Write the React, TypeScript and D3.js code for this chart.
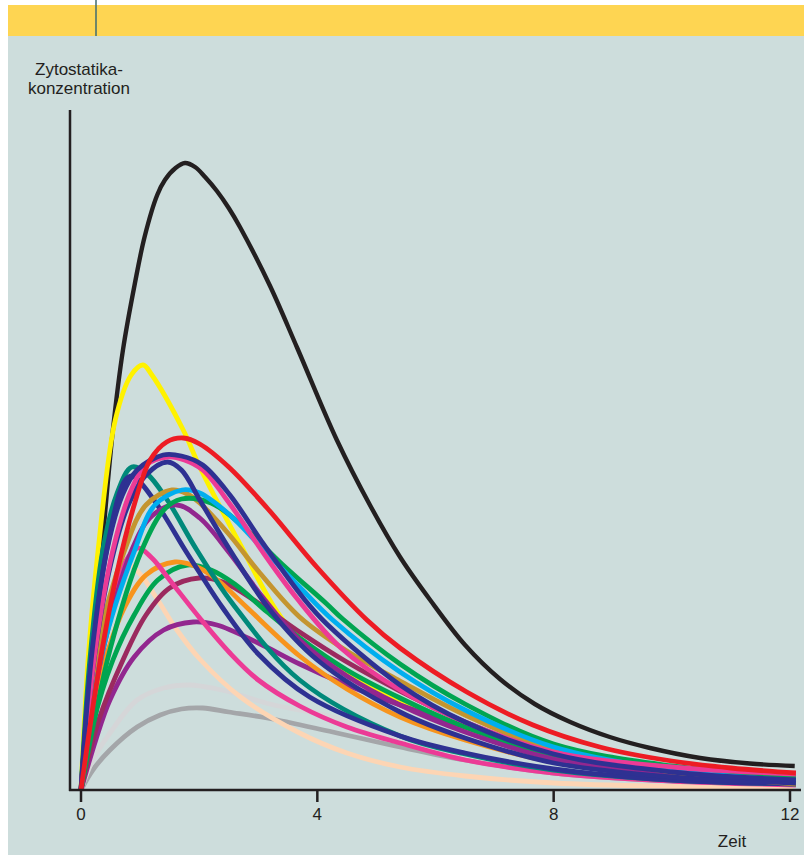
import React from "react";
import * as d3 from "d3";

type Pt = [number, number];

const xTicks = [0, 4, 8, 12];
const xTickLabels = ["0", "4", "8", "12"];
const yTitle = ["Zytostatika-", "konzentration"];
const xTitle = "Zeit";

const black: Pt[] = [[0,0],[0.36,24.5],[0.54,36],[0.71,44],[0.91,50.6],[1.08,55.4],[1.29,59.5],[1.42,61],[1.6,62.2],[1.76,62.7],[1.93,62.3],[2.1,61.3],[2.3,59.9],[2.5,58.2],[2.69,56.3],[3.2,50.4],[3.66,44.2],[4.33,35],[4.89,28.5],[5.4,23.3],[5.91,19],[6.5,14.5],[7.09,11.1],[7.68,8.6],[8.28,6.8],[8.95,5.3],[9.63,4.2],[10.48,3.2],[11.32,2.65],[12.08,2.4]];
const yellow: Pt[] = [[0,0],[0.12,13],[0.29,24],[0.58,37],[0.85,41.5],[1.05,42.5],[1.2,41.5],[1.73,36],[2.01,32.3],[2.7,24.5],[3.42,17],[4.2,12.8],[5.4,8.8],[6.5,6],[8,3.3],[10,1.6],[12.05,0.8]];
const red: Pt[] = [[0,0],[0.3,12],[0.6,21.5],[0.9,28.5],[1.17,33],[1.45,34.8],[1.73,35.2],[2.01,34.6],[2.5,32.3],[3.15,28.2],[3.99,22.3],[4.84,17],[5.4,14.2],[6.53,9.8],[7.65,6.5],[8.78,4.3],[10,2.9],[11,2.2],[12.1,1.7]];
const navyA: Pt[] = [[0,0],[0.19,14],[0.44,24],[0.7,29.5],[0.95,32],[1.39,33.5],[1.7,33.4],[2.06,32.5],[2.52,29.5],[3.1,24.5],[3.79,19],[4.16,16.6],[5.4,10.5],[6.5,6.8],[8,3.6],[10,1.8],[12.1,1.0]];
const pinkA: Pt[] = [[0,0],[0.24,14],[0.54,24],[0.85,30],[1.1,32.5],[1.46,33.3],[1.75,33],[2.06,32],[2.52,28.6],[3.1,23.6],[3.65,19.2],[4.4,14.2],[5.4,10],[6.5,6.8],[8,3.8],[10,2.3],[12.1,1.6]];
const navyC: Pt[] = [[0,0],[0.22,13],[0.5,22.5],[0.8,28.5],[1.1,31.5],[1.46,32.8],[1.7,32],[2.01,29],[2.5,24.2],[3.2,18],[4,13],[5.4,7.8],[6.5,5.2],[8,2.7],[10,1.3],[12.1,0.7]];
const navyB: Pt[] = [[0,0],[0.2,14],[0.45,24.5],[0.75,31],[0.88,31.4],[1.0,30.8],[1.35,28],[1.73,24.3],[2.01,21.7],[2.4,18.2],[3.0,13.6],[3.87,9.3],[5.4,5.4],[6.5,3.7],[8,2.1],[10,1.0],[12.1,0.6]];
const teal: Pt[] = [[0,0],[0.15,13],[0.37,24],[0.6,29.5],[0.86,32.3],[1.12,31.6],[1.46,29],[1.96,24],[2.57,18.6],[3.7,11],[5.4,5.4],[6.5,3.6],[8,2],[10,1],[12.1,0.6]];
const gold: Pt[] = [[0,0],[0.27,14],[0.74,24],[1.1,28.5],[1.54,30],[1.8,29.6],[2.01,28.7],[2.5,25.6],[3.0,21.9],[3.7,17.3],[4.5,13.9],[5.4,10.9],[6.5,7.5],[8,4],[10,1.8],[12.1,0.6]];
const cyan: Pt[] = [[0,0],[0.37,14],[0.91,24],[1.25,28.5],[1.71,30],[2.01,29.7],[2.5,27.6],[3.0,24.6],[3.7,20.3],[4.26,17],[5.4,11.8],[6.5,8],[8,4.3],[10,2],[12.1,0.9]];
const greenA: Pt[] = [[0,0],[0.49,14],[1.03,24],[1.4,28],[1.7,29.1],[2.2,28.7],[2.7,26.6],[3.4,22.6],[4.16,18.6],[4.43,17.1],[5.4,12.6],[6.5,8.6],[8,4.6],[10,2.4],[12.1,1.3]];
const purpleA: Pt[] = [[0,0],[0.3,12],[0.86,24],[1.2,27.4],[1.62,28.5],[2.01,27.2],[2.5,23.8],[3.06,19.4],[3.7,15],[4.5,11.4],[5.4,8.5],[6.5,5.8],[8,3.1],[10,1.5],[12.1,0.8]];
const orange: Pt[] = [[0,0],[0.2,8],[0.46,14],[0.74,18.3],[1.1,21.5],[1.59,22.8],[2.0,22.2],[2.35,20.8],[2.8,18.3],[3.7,13.4],[4.5,10.1],[5.4,7.3],[6.5,5],[8,2.8],[10,1.3],[12.1,0.7]];
const green2: Pt[] = [[0,0],[0.2,6.5],[0.54,13],[0.9,17.5],[1.3,21],[1.8,22.5],[2.2,22],[2.6,20.6],[3.15,17.8],[3.7,15.2],[4.5,12],[5.4,9.2],[6.5,6.3],[8,3.4],[10,1.6],[12.1,0.9]];
const maroon: Pt[] = [[0,0],[0.3,7],[0.71,13],[1.1,17.5],[1.5,20.2],[2.0,21.2],[2.4,20.8],[3.0,18.7],[3.7,15.8],[4.5,12.8],[5.4,9.9],[6.5,6.8],[8,3.6],[10,1.7],[12.1,0.9]];
const purple2: Pt[] = [[0,0],[0.25,5],[0.49,9],[0.9,13.3],[1.4,16],[1.9,16.8],[2.3,16.5],[3.0,14.7],[3.7,12.6],[4.5,10.5],[5.4,8.5],[6.5,6.3],[8,3.6],[10,1.7],[12.1,0.9]];
const pink2: Pt[] = [[0,0],[0.2,10],[0.5,18.5],[0.75,22.8],[0.96,24.2],[1.2,23.2],[1.5,21],[2.01,17.2],[2.52,13.7],[3.0,11],[3.7,8.4],[4.5,6.3],[5.4,4.7],[6.5,3],[8,1.7],[10,0.9],[12.1,0.5]];
const peach: Pt[] = [[0,0],[0.2,9],[0.45,17],[0.8,22.5],[1.0,21.6],[1.3,19],[1.6,16.2],[2.01,13.1],[2.7,9.3],[3.7,5.7],[4.5,3.7],[5.4,2.3],[6.5,1.4],[8,0.7],[10,0.35],[12.05,0.2]];
const lightgray: Pt[] = [[0,0],[0.2,3],[0.49,5.7],[0.95,9],[1.4,10.2],[1.84,10.5],[2.3,10.1],[2.52,9.8],[3.2,8.6],[4.26,7.3],[5.4,5],[6.5,3.5],[8,2],[10,1],[12.05,0.5]];
const gray: Pt[] = [[0,0],[0.2,2],[0.49,4],[0.95,6.3],[1.34,7.5],[1.7,8.1],[2.06,8.2],[2.5,7.8],[3.15,7.2],[4.26,5.8],[5.4,4.3],[6.5,3],[8,1.7],[10,0.9],[12.05,0.5]];

const series: { data: Pt[]; color: string; w: number }[] = [
  { data: black, color: "#231f20", w: 4.4 },
  { data: yellow, color: "#fff200", w: 4.8 },
  { data: gray, color: "#a4a6a9", w: 4.8 },
  { data: lightgray, color: "#d5d6d8", w: 4.8 },
  { data: peach, color: "#fdd5b4", w: 4.8 },
  { data: purple2, color: "#92278f", w: 4.8 },
  { data: maroon, color: "#9b2a5f", w: 4.8 },
  { data: green2, color: "#00a551", w: 4.8 },
  { data: orange, color: "#f7941d", w: 4.8 },
  { data: pink2, color: "#ec3b96", w: 4.8 },
  { data: teal, color: "#00897a", w: 4.8 },
  { data: navyB, color: "#2e3192", w: 4.8 },
  { data: purpleA, color: "#92278f", w: 4.8 },
  { data: gold, color: "#c4952f", w: 4.8 },
  { data: greenA, color: "#00a551", w: 4.8 },
  { data: cyan, color: "#00aeef", w: 4.8 },
  { data: navyC, color: "#2e3192", w: 4.8 },
  { data: pinkA, color: "#ec3b96", w: 4.8 },
  { data: navyA, color: "#2e3192", w: 4.8 },
  { data: red, color: "#ed1c24", w: 4.8 },
];

export default function App() {
  const W = 804, H = 855;
  const x = d3.scaleLinear().domain([0, 12]).range([81, 790]);
  const y = d3.scaleLinear().domain([0, 68]).range([790, 110]);
  const line = d3.line<Pt>().x(d => x(d[0])).y(d => y(d[1])).curve(d3.curveCatmullRom.alpha(0.5));
  const font = "'Liberation Sans', Arial, Helvetica, sans-serif";
  const ink = "#231f20";
  return (
    <svg width={W} height={H} style={{ position: "absolute", left: 0, top: 0 }} fontFamily={font}>
      <rect x={0} y={0} width={W} height={H} fill="#ffffff" />
      <rect x={8} y={5} width={W - 8} height={H - 5} fill="#cddddc" />
      <rect x={8} y={5} width={W - 8} height={31} fill="#fed552" />
      <line x1={96} x2={96} y1={0} y2={36} stroke="#3f6b72" strokeWidth={1.5} />
      {yTitle.map((t, i) => (
        <text key={t} x={79} y={74.5 + i * 19} textAnchor="middle" fontSize={17} fill={ink}>{t}</text>
      ))}
      {series.map((s, i) => (
        <path key={i} d={line(s.data) || ""} fill="none" stroke={s.color} strokeWidth={s.w} strokeLinejoin="round" strokeLinecap="butt" />
      ))}
      <line x1={70} x2={70} y1={110} y2={791} stroke={ink} strokeWidth={2.5} />
      <line x1={69} x2={801} y1={790} y2={790} stroke={ink} strokeWidth={2.5} />
      {xTicks.map((t, i) => (
        <g key={t}>
          <line x1={x(t)} x2={x(t)} y1={790} y2={802} stroke={ink} strokeWidth={2.5} />
          <text x={x(t)} y={820} textAnchor="middle" fontSize={17} fill={ink}>{xTickLabels[i]}</text>
        </g>
      ))}
      <text x={732} y={847} textAnchor="middle" fontSize={17} fill={ink}>{xTitle}</text>
    </svg>
  );
}
